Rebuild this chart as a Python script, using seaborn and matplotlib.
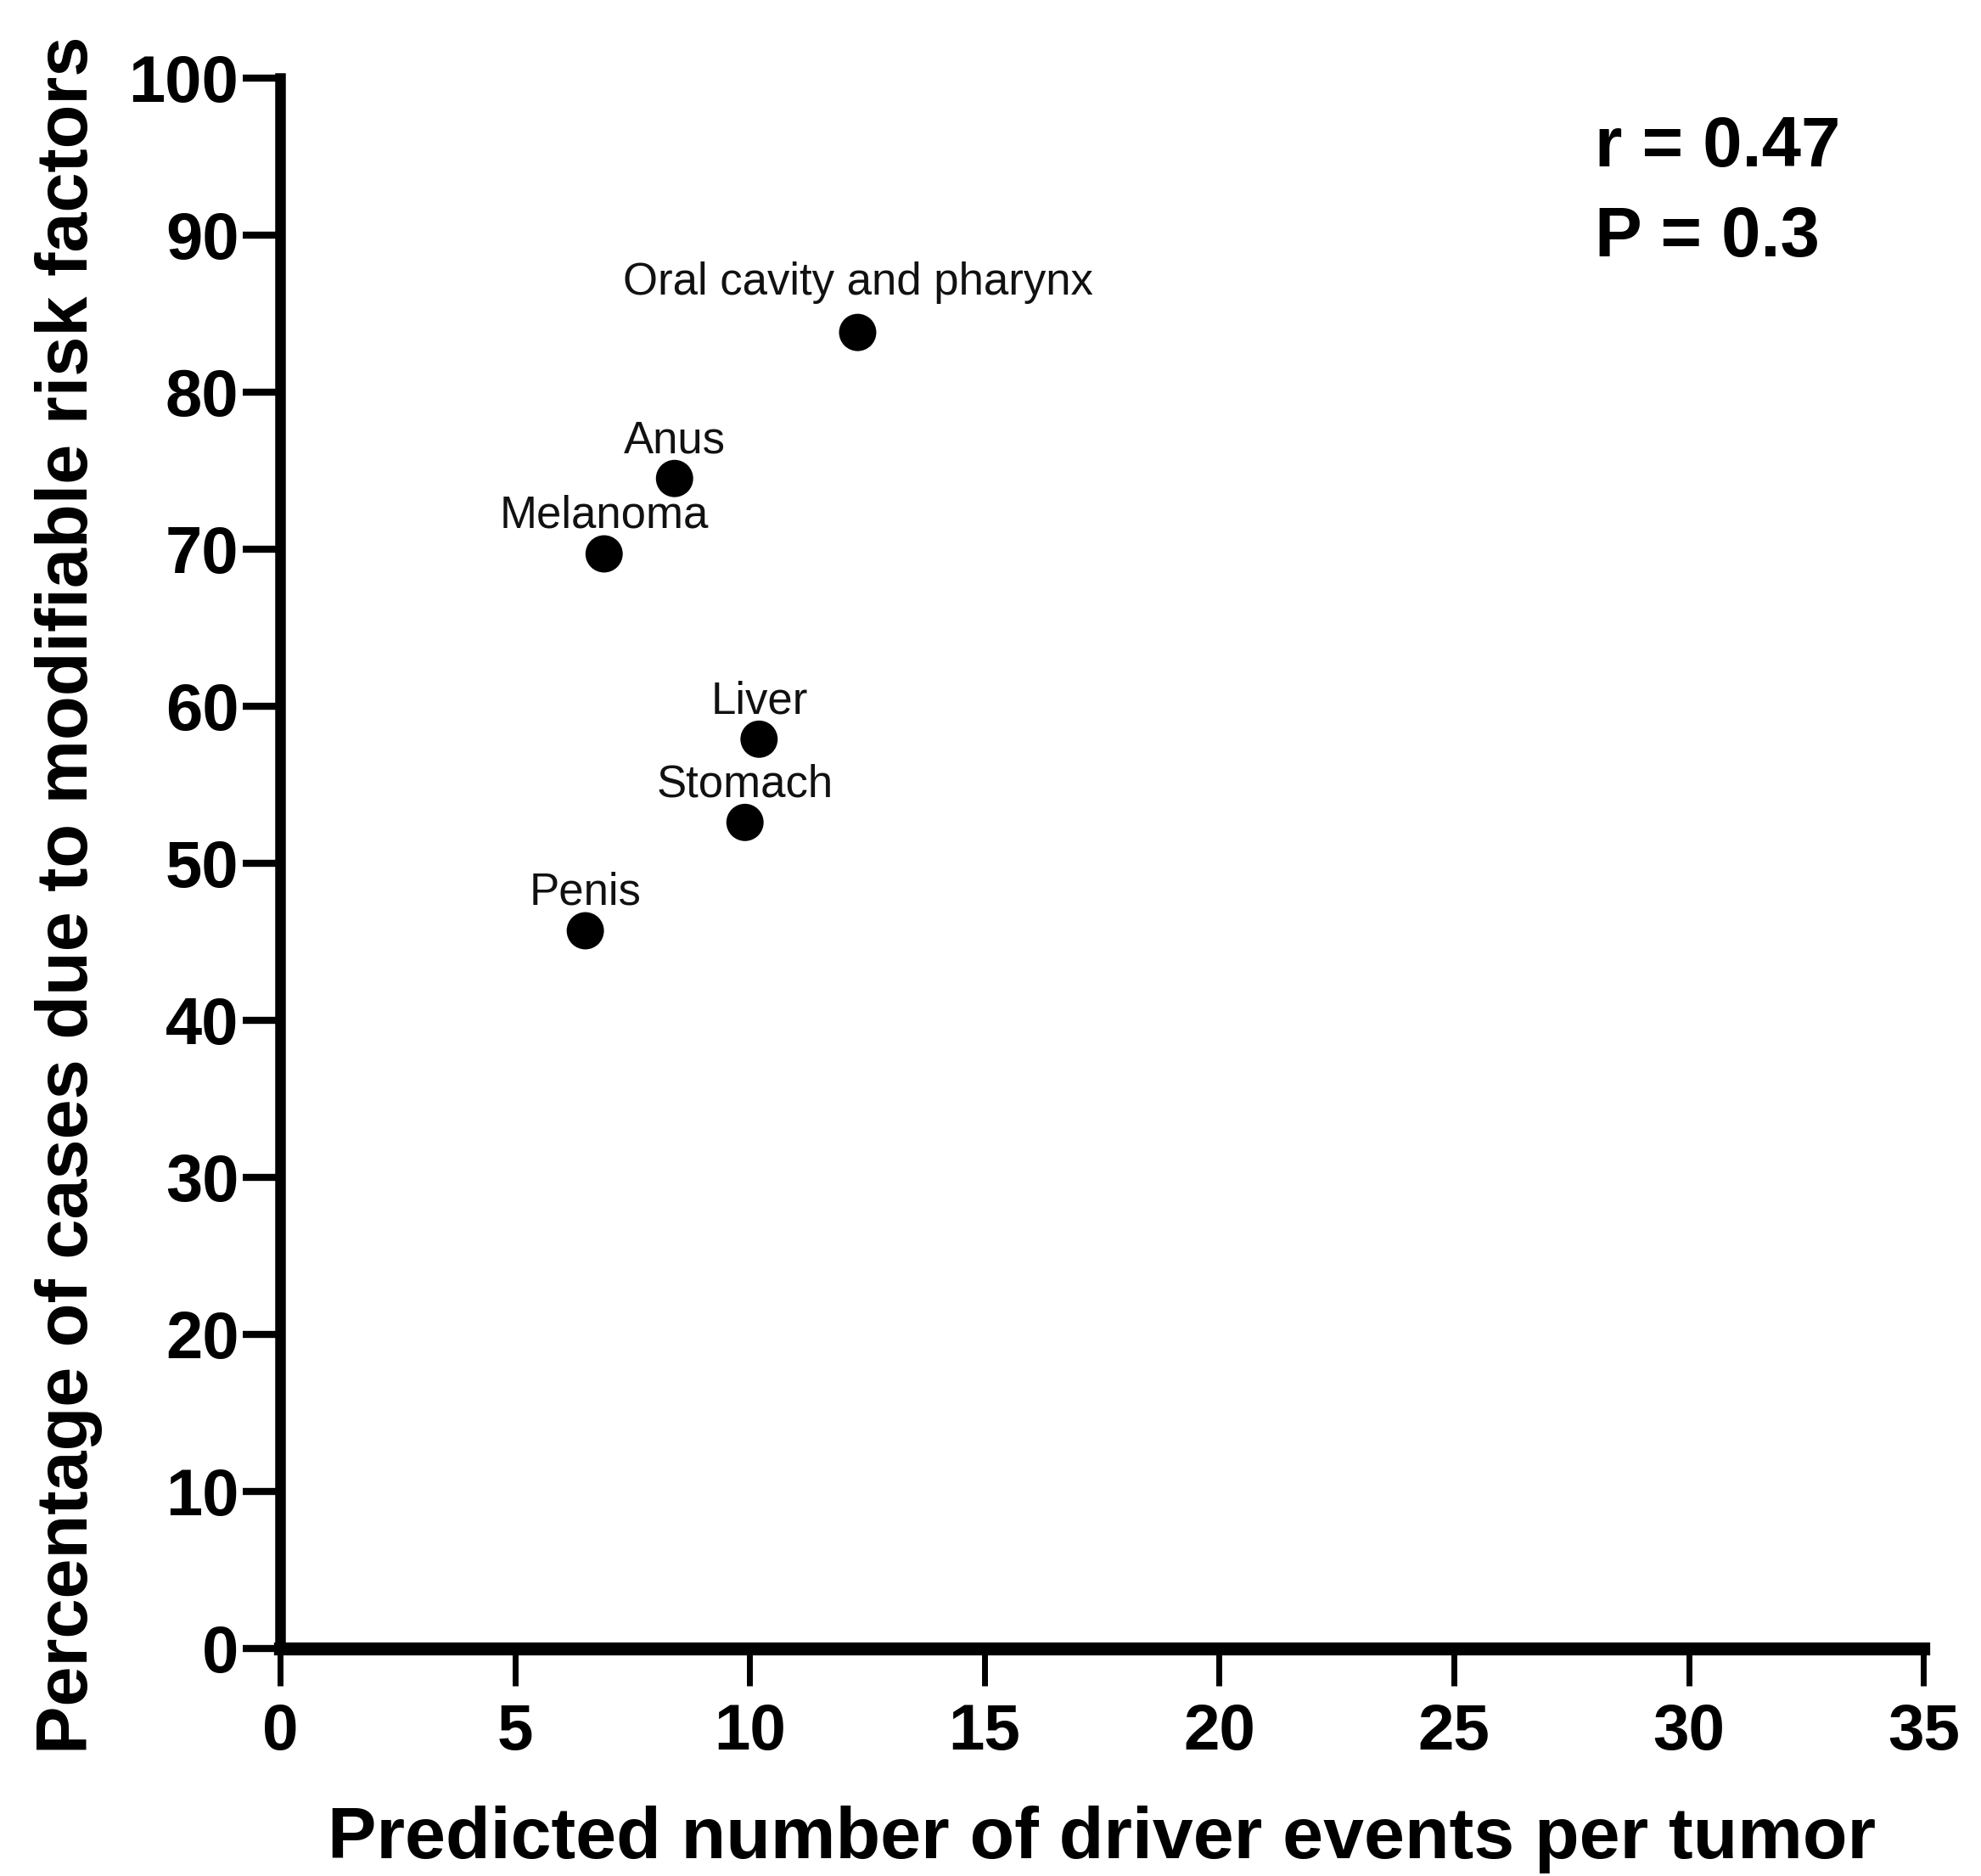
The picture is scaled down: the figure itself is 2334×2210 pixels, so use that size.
import matplotlib
matplotlib.use("Agg")
import matplotlib.pyplot as plt
import seaborn as sns
import pandas as pd

# Valores
tumor_types = ['Oral cavity and pharynx', 'Anus', 'Melanoma', 'Liver', 'Stomach', 'Penis']
driver_events = [12.3, 8.4, 6.9, 10.2, 9.9, 6.5]
pct_modifiable = [83.8, 74.5, 69.7, 57.9, 52.6, 45.7]

x_ticks = [0, 5, 10, 15, 20, 25, 30, 35]
y_ticks = [0, 10, 20, 30, 40, 50, 60, 70, 80, 90, 100]
stats_lines = ['r = 0.47', 'P = 0.3']

df = pd.DataFrame({'tumor': tumor_types, 'x': driver_events, 'y': pct_modifiable})

sns.set_style('white')
plt.rcParams['font.family'] = ['Liberation Sans', 'DejaVu Sans']
plt.rcParams['text.color'] = 'black'
plt.rcParams['axes.labelcolor'] = 'black'
plt.rcParams['xtick.color'] = 'black'
plt.rcParams['ytick.color'] = 'black'
plt.rcParams['axes.edgecolor'] = 'black'

fig = plt.figure(figsize=(23.34, 22.10), dpi=100)
ax = fig.add_axes([0.1414, 0.1213, 0.8296, 0.8371])

sns.scatterplot(data=df, x='x', y='y', color='black', s=1000, edgecolor='none', ax=ax, zorder=3)

# rótulos acima de cada ponto
for _, row in df.iterrows():
    off = 32 if row['tumor'].startswith('Oral') else 22
    ax.annotate(row['tumor'], (row['x'], row['y']), xytext=(0, off), textcoords='offset points',
                ha='center', va='baseline', fontsize=38, color='#111111')

ax.set_xlim(0, 35)
ax.set_ylim(0, 100)
ax.set_xticks(x_ticks)
ax.set_yticks(y_ticks)

for s in ['top', 'right']:
    ax.spines[s].set_visible(False)
ax.spines['left'].set_linewidth(9)
ax.spines['bottom'].set_linewidth(11)

ax.tick_params(axis='y', length=32, width=6, pad=3, labelsize=56, direction='out', left=True)
ax.tick_params(axis='x', length=32, width=5, pad=14, labelsize=55, direction='out', bottom=True)
for lab in ax.get_xticklabels() + ax.get_yticklabels():
    lab.set_fontweight('bold')

ax.set_xlabel('Predicted number of driver events per tumor', fontsize=62, fontweight='bold')
ax.set_ylabel('Percentage of cases due to modifiable risk factors', fontsize=61, fontweight='bold')
ax.xaxis.set_label_coords(0.5, -0.100)
ax.yaxis.set_label_coords(-0.108, 0.48)

ax.text(0.80, 0.9438, stats_lines[0], transform=ax.transAxes, fontsize=60, fontweight='bold', va='baseline')
ax.text(0.80, 0.8865, stats_lines[1], transform=ax.transAxes, fontsize=60, fontweight='bold', va='baseline')

ax.grid(False)
fig.savefig('out.png', dpi=100, facecolor='white')
